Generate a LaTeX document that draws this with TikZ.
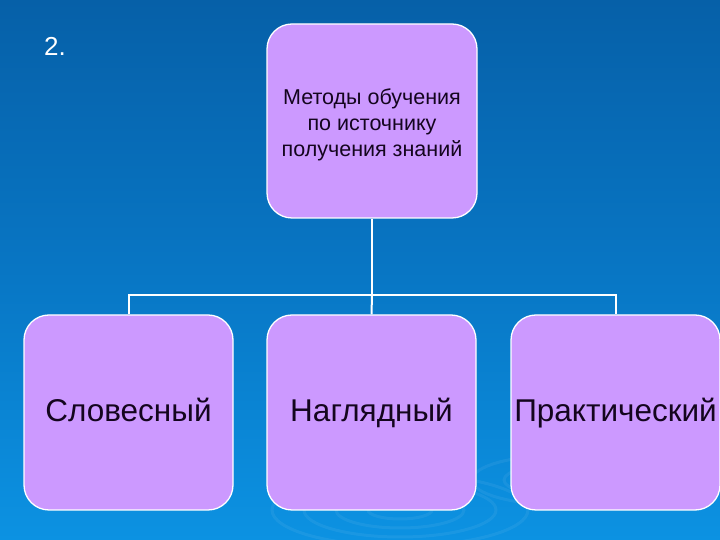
\documentclass[tikz,border=0pt]{standalone}
\usepackage{fontspec}
\setmainfont{Liberation Sans}
\definecolor{bgtop}{RGB}{6,96,168}
\definecolor{bgmid}{RGB}{8,118,196}
\definecolor{bgbot}{RGB}{12,146,226}
\definecolor{boxfill}{RGB}{204,153,255}
\definecolor{boxtext}{RGB}{20,5,30}
\tikzset{
  mbox/.style={draw=white, line width=1.3pt, fill=boxfill, rounded corners=25pt,
    inner sep=0pt, text=boxtext, align=center},
  lowbox/.style={mbox, minimum width=209pt, minimum height=195pt,
    font=\fontsize{31.5}{38}\selectfont, text height=23pt, text depth=5pt},
  link/.style={draw=white, line width=2pt},
  ripple/.style={draw=white, draw opacity=0.06, line width=3pt}
}
\begin{document}
\begin{tikzpicture}[x=1pt,y=1pt]
\useasboundingbox (0,0) rectangle (720,540);
\shade[top color=bgtop, bottom color=bgbot, middle color=bgmid] (0,0) rectangle (720,540);
% faint ripples
\foreach \r in {20,40,60,80}{
  \draw[ripple] (400,30) ellipse ({\r*1.6} and {\r*0.45});
}
\foreach \r in {15,35,55}{
  \draw[ripple] (560,60) ellipse ({\r*1.6} and {\r*0.45});
}
\node[text=white, font=\fontsize{26}{30}\selectfont] (num) at (55,494) {2.};
\node[mbox, minimum width=210pt, minimum height=194pt, text height=76pt,
  font=\fontsize{21.5}{26}\selectfont] (top) at (372,419)
  {Методы обучения\\по источнику\\получения знаний};
\node[lowbox] (b1) at (128.5,127.5) {Словесный};
\node[lowbox] (b2) at (371.5,127.5) {Наглядный};
\node[lowbox] (b3) at (615.5,127.5) {Практический};
\coordinate (hub) at (372,245);
\draw[link] (top.south) -- (hub);
\draw[link] (b1.north) |- (hub) -| (b3.north);
\draw[link] (hub) -- (b2.north);
\end{tikzpicture}
\end{document}
